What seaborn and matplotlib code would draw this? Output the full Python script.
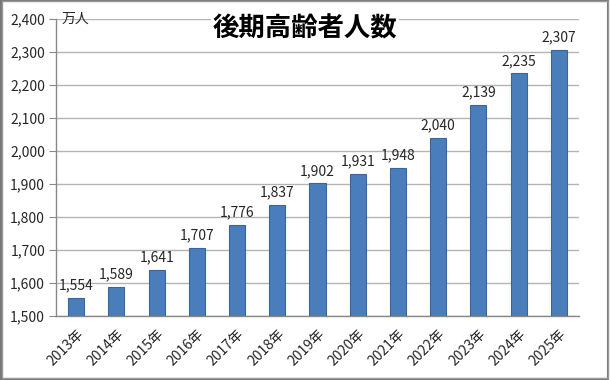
import numpy as np
import pandas as pd
import seaborn as sns
import matplotlib.pyplot as plt
from matplotlib.patches import Rectangle

years = ["2013年", "2014年", "2015年", "2016年", "2017年", "2018年", "2019年",
         "2020年", "2021年", "2022年", "2023年", "2024年", "2025年"]
counts = [1554, 1589, 1641, 1707, 1776, 1837, 1902, 1931, 1948, 2040, 2139, 2235, 2307]
title = "後期高齢者人数"
unit = "万人"

sns.set_style("white")
plt.rcParams['font.family'] = ['Noto Sans CJK JP', 'DejaVu Sans']

df = pd.DataFrame({"year": years, "count": counts})

fig = plt.figure(figsize=(6.1, 3.8), dpi=100)
ax = fig.add_axes([0.092, 0.168, 0.857, 0.782])

sns.barplot(data=df, x="year", y="count", color="#4a7ebb", width=0.4,
            edgecolor="#38659a", linewidth=0.8, saturation=1, ax=ax, zorder=3)

ax.set_ylim(1500, 2400)
ax.set_yticks(np.arange(1500, 2401, 100))
ax.set_yticklabels([f"{v:,}" for v in range(1500, 2401, 100)], fontsize=10)
ax.set_xlim(-0.5, len(years) - 0.5)
ax.set_xlabel("")
ax.set_ylabel("")
ax.grid(axis="y", color="#b4b4b4", linewidth=1, zorder=0)

ax.set_xticks(range(len(years)))
ax.set_xticklabels(years, rotation=45, ha="right", rotation_mode="anchor", fontsize=10)
ax.set_xticks(np.arange(-0.5, len(years), 1), minor=True)
ax.tick_params(axis="x", which="major", length=0, pad=8)
ax.tick_params(axis="x", which="minor", length=5, color="#888888", direction="out")
ax.tick_params(axis="y", length=5, color="#888888", direction="out", left=True, pad=3)

for side in ["top", "right"]:
    ax.spines[side].set_visible(False)
for side in ["left", "bottom"]:
    ax.spines[side].set_color("#888888")
    ax.spines[side].set_linewidth(1)

for c in ax.containers:
    ax.bar_label(c, labels=[f"{v:,}" for v in counts], padding=4, fontsize=10)

ax.text(0.01, 1.0, unit, transform=ax.transAxes, fontsize=10, va="center", ha="left")
fig.text(0.5, 0.925, title, fontsize=19, fontweight="bold", ha="center", va="center",
         color="black", bbox=dict(facecolor="white", edgecolor="none", pad=1))

# outer frame, slightly darker on the right and bottom
fig.patches.append(Rectangle((0.002, 0.003), 0.994, 0.994, transform=fig.transFigure,
                             fill=False, edgecolor="#777777", linewidth=1.5))
fig.patches.append(Rectangle((0.004, 0.005), 0.993, 0.993, transform=fig.transFigure,
                             fill=False, edgecolor="#999999", linewidth=1))

fig.savefig("out.png", dpi=100)
